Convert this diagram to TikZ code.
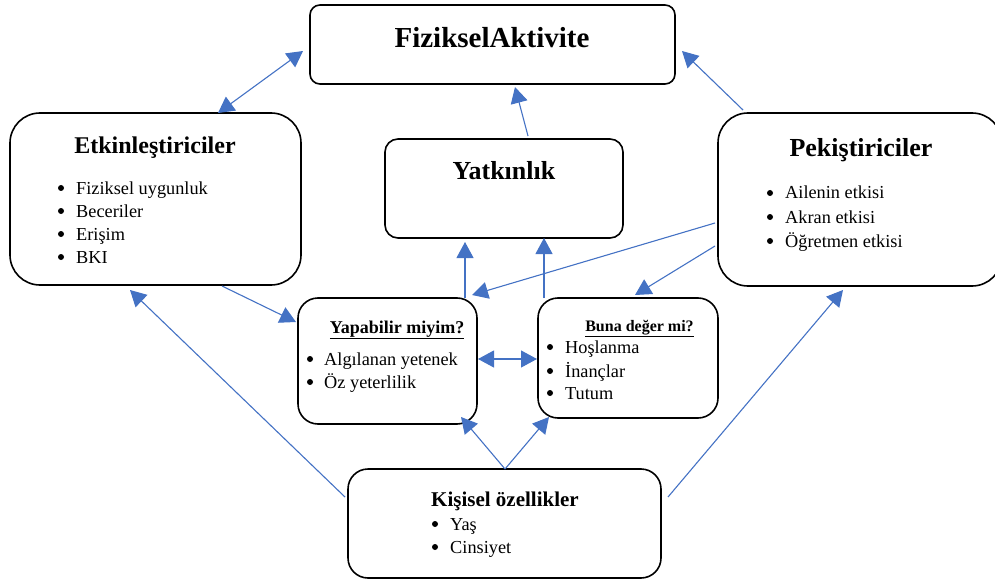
\documentclass[tikz,border=0pt]{standalone}
\usepackage{fontspec}
\setmainfont{Liberation Serif}
\usetikzlibrary{calc,arrows.meta}
\definecolor{conblue}{HTML}{4472C4}
\tikzset{
  box/.style={draw=black, line width=1.6pt, rectangle, inner sep=0pt, outer sep=0pt},
  conn/.style={draw=conblue, line width=1.1pt, -{Triangle[length=16pt,width=17pt]}},
  dconn/.style={draw=conblue, line width=1.1pt, {Triangle[length=16pt,width=17pt]}-{Triangle[length=16pt,width=17pt]}},
  ttl/.style={anchor=base, inner sep=0pt, font=\bfseries},
  itm/.style={anchor=base west, inner sep=0pt, font=\fontsize{18.3}{22}\selectfont},
  dot/.style={fill=black, draw=none}
}
\begin{document}
\begin{tikzpicture}[x=1pt,y=-1pt]
\useasboundingbox (0,0) rectangle (995,580);
\clip (0,0) rectangle (995,580);
% boxes
\node[box, rounded corners=10pt, minimum width=365pt, minimum height=79pt] (fa) at (492.5,44.5) {};
\node[box, rounded corners=30pt, minimum width=291pt, minimum height=172pt] (etk) at (155.5,199) {};
\node[box, rounded corners=13pt, minimum width=238pt, minimum height=99pt] (yat) at (504,188.5) {};
\node[box, rounded corners=30pt, minimum width=284pt, minimum height=173pt] (pek) at (860,199.5) {};
\node[box, rounded corners=20pt, minimum width=179pt, minimum height=126pt] (yap) at (387.5,361) {};
\node[box, rounded corners=20pt, minimum width=180pt, minimum height=120pt] (buna) at (628,358) {};
\node[box, rounded corners=20pt, minimum width=313pt, minimum height=109pt] (kis) at (504.5,523.5) {};
% titles
\node[ttl, font=\bfseries\fontsize{29}{33}\selectfont] (tfa) at (492,48) {FizikselAktivite};
\node[ttl, font=\bfseries\fontsize{24}{28}\selectfont] (tetk) at (155,154) {Etkinleştiriciler};
\node[ttl, font=\bfseries\fontsize{26}{30}\selectfont] (tyat) at (504,180) {Yatkınlık};
\node[ttl, font=\bfseries\fontsize{26}{30}\selectfont] (tpek) at (861,157) {Pekiştiriciler};
\node[ttl, font=\bfseries\fontsize{18}{22}\selectfont] (tyap) at (397,333) {\underline{Yapabilir miyim?}};
\node[ttl, font=\bfseries\fontsize{16}{20}\selectfont] (tbuna) at (639.5,331) {\underline{Buna değer mi?}};
\node[ttl, font=\bfseries\fontsize{21}{25}\selectfont] (tkis) at (505,506) {Kişisel özellikler};
% items
\foreach \t/\y [count=\i] in {Fiziksel uygunluk/194, Beceriler/217, Erişim/240, BKI/263}{
  \fill[dot] (61,\y-6) circle (3pt);
  \node[itm] (e\i) at (76,\y) {\t};
}
\foreach \t/\y [count=\i] in {Ailenin etkisi/199, Akran etkisi/223, Öğretmen etkisi/247}{
  \fill[dot] (770,\y-6) circle (3pt);
  \node[itm] (p\i) at (785,\y) {\t};
}
\foreach \t/\y [count=\i] in {Algılanan yetenek/365, Öz yeterlilik/388}{
  \fill[dot] (310,\y-6) circle (3pt);
  \node[itm] (y\i) at (324,\y) {\t};
}
\foreach \t/\y [count=\i] in {Hoşlanma/353, İnançlar/377, Tutum/399}{
  \fill[dot] (550,\y-6) circle (3pt);
  \node[itm] (b\i) at (565,\y) {\t};
}
\foreach \t/\y [count=\i] in {Yaş/530, Cinsiyet/553}{
  \fill[dot] (435,\y-6) circle (3pt);
  \node[itm] (k\i) at (450,\y) {\t};
}
% connectors
\draw[dconn] ($(etk.north west)+(208,0)$) -- ($(fa.west)+(-7,6.5)$);
\draw[conn] ($(yat.north)+(24,-3)$) -- ($(fa.south)+(22.5,3)$);
\draw[conn] ($(pek.north west)+(25,-3)$) -- ($(fa.east)+(7,6.5)$);
\draw[conn] ($(pek.west)+(-3,23.5)$) -- ($(yap.north east)+(-5,-3)$);
\draw[conn] ($(pek.west)+(-3,46.5)$) -- ($(buna.north)+(7,-3)$);
\draw[conn] ($(yap.north east)+(-12,0)$) -- ($(yat.south west)+(80,4)$);
\draw[conn] ($(buna.north west)+(6,0)$) -- ($(yat.south west)+(159,0)$);
\draw[conn] ($(etk.south west)+(212,1)$) -- ($(yap.north west)+(-2,24)$);
\draw[conn] ($(kis.west)+(-3,-26.5)$) -- ($(etk.south west)+(120,5)$);
\draw[conn] ($(kis.east)+(7,-26.5)$) -- ($(pek.south west)+(125,4)$);
\draw[dconn] ($(yap.east)+(1,-2)$) -- ($(buna.west)+(-1,1)$);
\draw[conn] ($(kis.north)+(0.5,0)$) -- ($(yap.south east)+(-16,-7)$);
\draw[conn] ($(kis.north)+(0.5,0)$) -- ($(buna.south west)+(11,-1)$);
\end{tikzpicture}
\end{document}
